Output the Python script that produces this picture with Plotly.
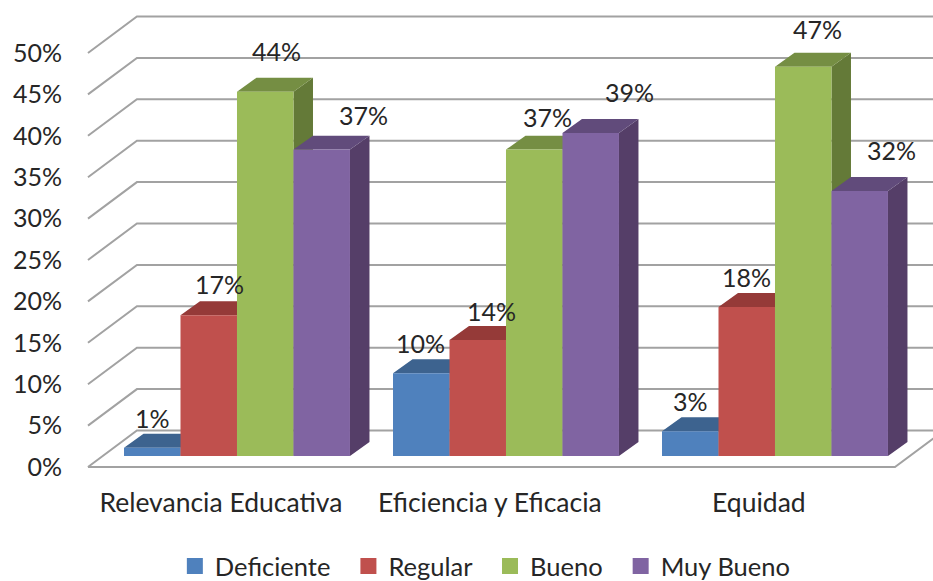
import plotly.graph_objects as go

categories = ["Relevancia Educativa", "Eficiencia y Eficacia", "Equidad"]
series_names = ["Deficiente", "Regular", "Bueno", "Muy Bueno"]
deficiente = [1, 10, 3]
regular = [17, 14, 18]
bueno = [44, 37, 47]
muy_bueno = [37, 39, 32]
axis_levels = [0, 5, 10, 15, 20, 25, 30, 35, 40, 45, 50]

series_values = [deficiente, regular, bueno, muy_bueno]
front_colors = ["#4F81BD", "#C0504D", "#9BBB59", "#8064A2"]
top_colors = ["#3D638F", "#953A38", "#758E43", "#614B7B"]
side_colors = ["#345478", "#7E302E", "#647A38", "#553E68"]

# label nudges (right, up) in pixels relative to the top-centre of each bar
label_nudges = [
    [(0, 30), (-1, 30), (0, 30)],
    [(11, 31), (14, 29), (0, 30)],
    [(11, 41), (13, 33), (14, 38)],
    [(42, 35), (39, 41), (32, 41)],
]

# axis geometry: one x unit is a category pitch, y is in percent
X_RANGE = [-0.6208, 2.5874]
Y_RANGE = [-2.899, 55.07]
BAR_W = 0.21
BAR_GAP = 1 - 4 * BAR_W
DEPTH_X, DEPTH_Y = 0.0725, 1.69        # bar extrusion
WALL_X, WALL_Y = 0.182, 4.41           # chart box extrusion
WALL_LEFT = -0.554
WALL_RIGHT = 2.446
FLOOR_DROP = 1.33                      # box floor sits below the bar bases
LABEL_SHIFT = 0.06
LEGEND_PAD = "\u00a0\u00a0"            # widens the spacing between legend entries
GRID = "#A2A2A2"
TEXT = "#262626"
FONT = "Lato"

fig = go.Figure()

# back wall, side wall and floor lines at every axis level
for level in axis_levels:
    y0 = level - FLOOR_DROP
    xs = [WALL_LEFT, WALL_LEFT + WALL_X, 2.7]
    ys = [y0, y0 + WALL_Y, y0 + WALL_Y]
    fig.add_trace(go.Scatter(x=xs, y=ys, mode="lines", line=dict(color=GRID, width=2),
                             showlegend=False, hoverinfo="skip", cliponaxis=True))
floor_y = -FLOOR_DROP
fig.add_trace(go.Scatter(
    x=[WALL_LEFT, WALL_RIGHT, WALL_RIGHT + WALL_X],
    y=[floor_y, floor_y, floor_y + WALL_Y],
    mode="lines", line=dict(color=GRID, width=2), showlegend=False, hoverinfo="skip"))

# extruded top and side faces, painted left to right
for s, values in enumerate(series_values):
    top_x, top_y, side_x, side_y = [], [], [], []
    for g, v in enumerate(values):
        left = g + (s - 2) * BAR_W
        right = left + BAR_W
        top_x += [left, right, right + DEPTH_X, left + DEPTH_X, left, None]
        top_y += [v, v, v + DEPTH_Y, v + DEPTH_Y, v, None]
        side_x += [right, right, right + DEPTH_X, right + DEPTH_X, right, None]
        side_y += [0, v, v + DEPTH_Y, DEPTH_Y, 0, None]
    fig.add_trace(go.Scatter(x=side_x, y=side_y, mode="lines", fill="toself",
                             fillcolor=side_colors[s], line=dict(width=0),
                             showlegend=False, hoverinfo="skip"))
    fig.add_trace(go.Scatter(x=top_x, y=top_y, mode="lines", fill="toself",
                             fillcolor=top_colors[s], line=dict(width=0),
                             showlegend=False, hoverinfo="skip"))

# front faces on an overlaid subplot so they cover the neighbouring extrusions
for s, values in enumerate(series_values):
    fig.add_trace(go.Bar(x=list(range(len(categories))), y=values, name=series_names[s],
                         marker=dict(color=front_colors[s], line=dict(width=0)),
                         xaxis="x2", yaxis="y2", showlegend=False))

# legend entries with larger square swatches
for s, name in enumerate(series_names):
    fig.add_trace(go.Scatter(x=[None], y=[None], mode="markers", name=name + LEGEND_PAD,
                             marker=dict(symbol="square", size=16, color=front_colors[s])))

annotations = []
for s, values in enumerate(series_values):
    for g, v in enumerate(values):
        nudge = label_nudges[s][g]
        annotations.append(dict(
            x=g + (s - 1.5) * BAR_W, y=v, xref="x", yref="y", text=f"{v}%", showarrow=False,
            xshift=nudge[0], yshift=nudge[1], xanchor="center", yanchor="middle",
            font=dict(family=FONT, size=25, color=TEXT)))

fig.update_layout(
    width=933, height=581,
    margin=dict(l=70, r=0, t=0, b=101, autoexpand=False),
    paper_bgcolor="white", plot_bgcolor="white",
    barmode="group", bargap=BAR_GAP, bargroupgap=0,
    font=dict(family=FONT, size=25, color=TEXT),
    annotations=annotations,
    xaxis=dict(range=X_RANGE, tickmode="array",
               tickvals=[i - LABEL_SHIFT for i in range(len(categories))], ticktext=categories,
               tickfont=dict(family=FONT, size=26.5, color=TEXT),
               showgrid=False, zeroline=False, showline=False,
               ticks="", ticklabelstandoff=4),
    yaxis=dict(range=Y_RANGE, tickmode="array",
               tickvals=[v - FLOOR_DROP for v in axis_levels],
               ticktext=[f"{v}%" for v in axis_levels],
               showgrid=False, zeroline=False, showline=False,
               ticks="outside", ticklen=2, tickcolor="rgba(0,0,0,0)"),
    xaxis2=dict(range=X_RANGE, overlaying="x", visible=False),
    yaxis2=dict(range=Y_RANGE, overlaying="y", visible=False),
    legend=dict(orientation="h", x=0.1215, xanchor="left", y=-0.18, yanchor="middle",
                bgcolor="rgba(0,0,0,0)", font=dict(family=FONT, size=25.5, color=TEXT)),
)

fig.write_html("out.html")
